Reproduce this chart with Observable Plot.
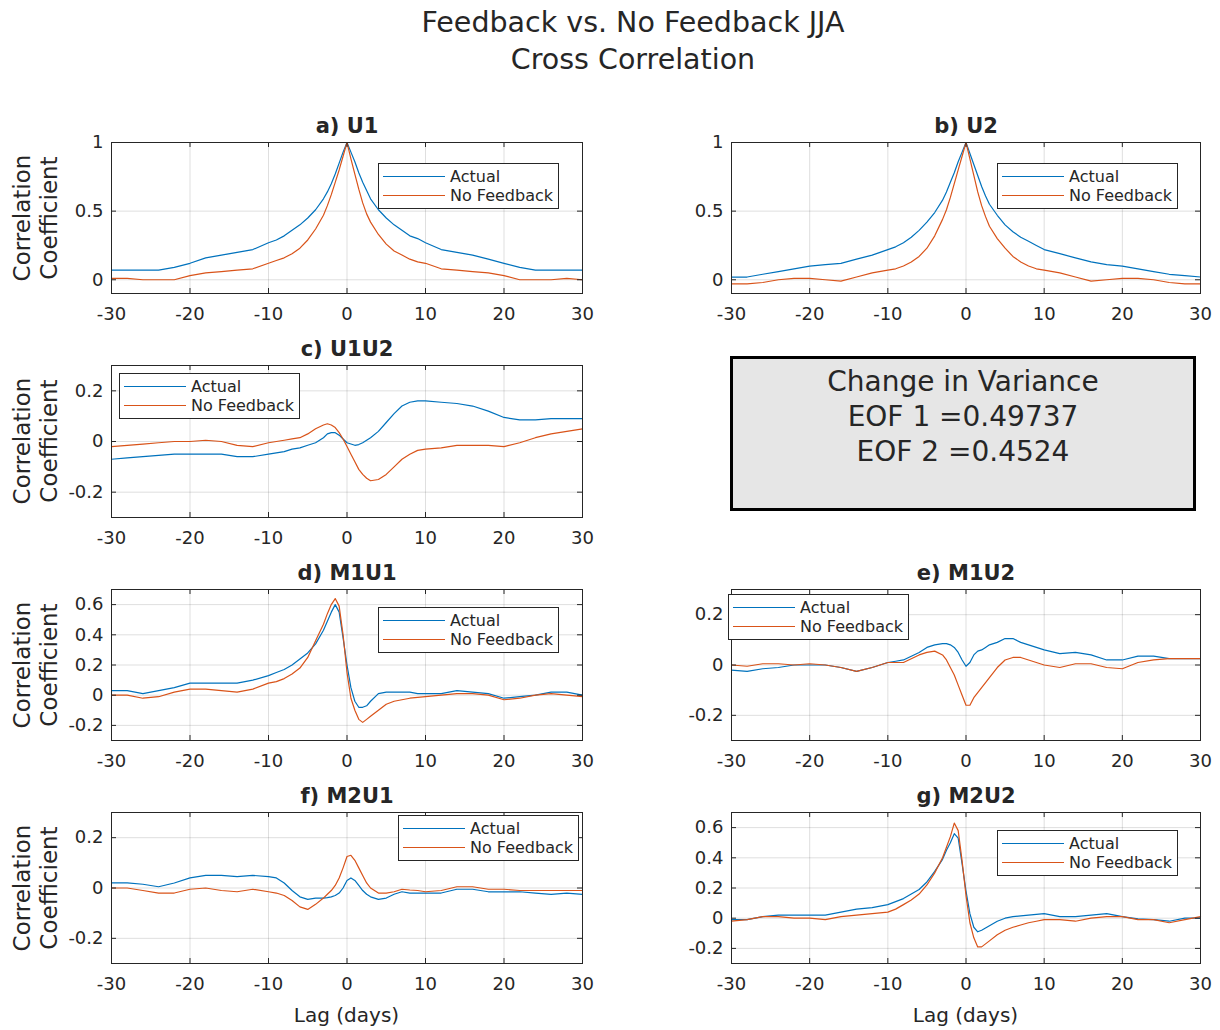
<!DOCTYPE html>
<html><head><meta charset="utf-8">
<script src="https://cdn.jsdelivr.net/npm/d3@7"></script>
<script src="https://cdn.jsdelivr.net/npm/@observablehq/plot@0.6"></script>
<style>
body{margin:0;background:#fff;font-family:"DejaVu Sans",sans-serif;color:#262626;}
#root{position:relative;width:1220px;height:1030px;overflow:hidden;background:#fff;}
.suptitle{position:absolute;left:0;width:1266px;text-align:center;font-size:28.5px;line-height:37px;top:4px;color:#262626;}
.ylab{position:absolute;width:200px;text-align:center;font-size:23px;line-height:27px;transform:rotate(-90deg);transform-origin:center;color:#262626;}
.xlab{position:absolute;width:200px;text-align:center;font-size:20px;color:#262626;}
.legend{position:absolute;border:1px solid #262626;background:#fff;box-sizing:border-box;padding:3px 0 0 4px;font-size:16px;color:#262626;}
.legend .row{display:flex;align-items:center;height:19px;}
.legend .sw{display:inline-block;width:62px;height:1.3px;margin-right:5px;}
.note{position:absolute;border:3px solid #000;background:#e6e6e6;box-sizing:border-box;text-align:center;font-size:28px;line-height:35px;padding-top:5px;color:#262626;}
</style></head>
<body><div id="root"></div>
<script>
// ---- data ----
const lags = [-30,-28,-26,-24,-22,-20,-18,-16,-14,-12,-10,-9,-8,-7,-6,-5,-4,-3,-2.5,-2,-1.5,-1,-0.5,0,0.5,1,1.5,2,2.5,3,4,5,6,7,8,9,10,12,14,16,18,20,22,24,26,28,30];
const seriesNames = ["Actual", "No Feedback"];
const xTicks = [-30,-20,-10,0,10,20,30];

const u1Actual = [.07,.07,.07,.07,.09,.12,.16,.18,.20,.22,.27,.29,.32,.36,.40,.45,.51,.59,.64,.70,.77,.85,.93,1.0,.93,.86,.78,.71,.65,.59,.51,.45,.40,.36,.32,.30,.27,.22,.20,.18,.15,.12,.09,.07,.07,.07,.07];
const u1NoFb   = [.01,.01,0,0,0,.03,.05,.06,.07,.08,.12,.14,.16,.19,.23,.29,.37,.47,.54,.62,.71,.80,.90,1.0,.88,.77,.66,.56,.48,.42,.33,.26,.21,.18,.15,.13,.12,.08,.07,.06,.05,.03,0,0,0,.01,0];

const u2Actual = [.02,.02,.04,.06,.08,.10,.11,.12,.15,.18,.22,.24,.27,.31,.36,.42,.49,.58,.64,.71,.78,.86,.93,1.0,.92,.84,.76,.68,.61,.55,.47,.40,.35,.31,.28,.25,.22,.19,.16,.13,.11,.10,.08,.06,.04,.03,.02];
const u2NoFb   = [-.03,-.03,-.02,0,.01,.01,0,-.01,.02,.05,.07,.08,.10,.13,.17,.23,.32,.44,.51,.60,.70,.80,.90,1.0,.88,.76,.64,.54,.46,.39,.30,.23,.17,.13,.10,.08,.07,.05,.02,-.01,0,.01,.01,0,-.02,-.03,-.03];

const u1u2Actual = [-.07,-.065,-.06,-.055,-.05,-.05,-.05,-.05,-.06,-.06,-.05,-.045,-.04,-.03,-.025,-.015,-.005,.015,.03,.035,.035,.025,.01,-.005,-.01,-.015,-.012,-.005,.005,.015,.04,.075,.11,.14,.155,.16,.16,.155,.15,.14,.12,.095,.085,.085,.09,.09,.09];
const u1u2NoFb   = [-.02,-.015,-.01,-.005,0,0,.005,0,-.015,-.02,-.005,0,.005,.01,.015,.03,.05,.065,.07,.065,.055,.035,.01,-.02,-.05,-.08,-.11,-.13,-.145,-.155,-.15,-.13,-.10,-.07,-.05,-.035,-.03,-.025,-.015,-.015,-.015,-.02,-.005,.015,.03,.04,.05];

const m1u1Actual = [.03,.03,.01,.03,.05,.08,.08,.08,.08,.10,.13,.15,.17,.20,.24,.28,.34,.43,.49,.55,.60,.55,.38,.20,.05,-.04,-.08,-.08,-.07,-.04,.01,.02,.02,.02,.02,.01,.01,.01,.03,.02,.01,-.02,-.01,0,.02,.02,0];
const m1u1NoFb   = [0,0,-.02,-.01,.02,.04,.04,.03,.02,.04,.08,.09,.11,.14,.18,.25,.36,.47,.54,.60,.64,.59,.40,.15,-.02,-.10,-.16,-.18,-.16,-.14,-.10,-.06,-.04,-.03,-.02,-.015,-.01,0,.01,.01,0,-.03,-.02,0,.01,0,-.01];

const m1u2Actual = [-.02,-.025,-.015,-.01,0,0,0,-.01,-.025,-.01,.01,.015,.02,.035,.05,.07,.08,.085,.085,.08,.07,.05,.02,-.005,.01,.04,.055,.06,.07,.08,.09,.105,.105,.09,.08,.07,.06,.045,.05,.04,.02,.02,.035,.035,.025,.025,.025];
const m1u2NoFb   = [0,-.005,.005,.005,0,.005,0,-.01,-.025,-.01,.01,.01,.01,.025,.04,.05,.055,.04,.02,-.01,-.04,-.08,-.12,-.16,-.16,-.13,-.11,-.09,-.07,-.05,-.01,.02,.03,.03,.02,.01,0,-.01,.005,.005,-.01,-.015,.01,.02,.025,.025,.025];

const m2u1Actual = [.02,.02,.015,.005,.02,.04,.05,.05,.045,.05,.045,.04,.02,-.01,-.035,-.045,-.04,-.04,-.038,-.035,-.03,-.02,0,.03,.04,.03,.01,-.01,-.025,-.035,-.045,-.04,-.025,-.015,-.02,-.02,-.02,-.02,-.005,-.005,-.015,-.015,-.015,-.02,-.025,-.02,-.025];
const m2u1NoFb   = [0,0,-.01,-.02,-.02,-.005,0,-.01,-.015,-.005,-.015,-.02,-.03,-.05,-.075,-.085,-.065,-.04,-.025,-.01,.01,.04,.08,.125,.13,.11,.08,.05,.02,0,-.02,-.02,-.015,-.005,-.008,-.01,-.015,-.01,.005,.005,-.005,-.005,-.01,-.01,-.01,-.01,-.01];

const m2u2Actual = [-.01,-.01,.01,.02,.02,.02,.02,.04,.06,.07,.09,.11,.13,.16,.19,.24,.31,.39,.45,.50,.56,.53,.36,.18,.03,-.06,-.09,-.08,-.065,-.05,-.02,0,.01,.015,.02,.025,.03,.01,.01,.02,.03,.01,-.005,-.01,-.02,0,0];
const m2u2NoFb   = [-.02,-.01,.01,.01,0,0,-.01,.01,.02,.03,.04,.06,.09,.12,.16,.22,.30,.40,.47,.54,.63,.58,.38,.15,-.03,-.13,-.19,-.19,-.17,-.15,-.11,-.08,-.06,-.045,-.03,-.02,-.01,-.01,-.02,0,.01,.01,-.01,-.01,-.03,-.01,.01];

const varianceText = ["Change in Variance", "EOF 1 =0.49737", "EOF 2 =0.4524"];

// ---- layout ----
const INK = "#262626", BLUE = "#0072BD", ORANGE = "#D95319", FONT = "DejaVu Sans";
const panels = [
  {title:"a) U1",   actual:u1Actual,   nofb:u1NoFb,   left:111, top:142, w:471, h:151, yDomain:[-0.1,1],   yTicks:[0,0.5,1],            ylab:true,  xlab:false, legend:[378,163]},
  {title:"b) U2",   actual:u2Actual,   nofb:u2NoFb,   left:731, top:142, w:469, h:151, yDomain:[-0.1,1],   yTicks:[0,0.5,1],            ylab:false, xlab:false, legend:[997,163]},
  {title:"c) U1U2", actual:u1u2Actual, nofb:u1u2NoFb, left:111, top:365, w:471, h:152, yDomain:[-0.3,0.3], yTicks:[-0.2,0,0.2],         ylab:true,  xlab:false, legend:[119,373]},
  {title:"d) M1U1", actual:m1u1Actual, nofb:m1u1NoFb, left:111, top:589, w:471, h:151, yDomain:[-0.3,0.7], yTicks:[-0.2,0,0.2,0.4,0.6], ylab:true,  xlab:false, legend:[378,607]},
  {title:"e) M1U2", actual:m1u2Actual, nofb:m1u2NoFb, left:731, top:589, w:469, h:151, yDomain:[-0.3,0.3], yTicks:[-0.2,0,0.2],         ylab:false, xlab:false, legend:[728,594]},
  {title:"f) M2U1", actual:m2u1Actual, nofb:m2u1NoFb, left:111, top:812, w:471, h:151, yDomain:[-0.3,0.3], yTicks:[-0.2,0,0.2],         ylab:true,  xlab:true,  legend:[398,815]},
  {title:"g) M2U2", actual:m2u2Actual, nofb:m2u2NoFb, left:731, top:812, w:469, h:151, yDomain:[-0.3,0.7], yTicks:[-0.2,0,0.2,0.4,0.6], ylab:false, xlab:true,  legend:[997,830]}
];

const root = document.getElementById("root");
const title = document.createElement("div");
title.className = "suptitle";
title.innerHTML = "Feedback vs. No Feedback JJA<br>Cross Correlation";
root.appendChild(title);

const fmt = d => String(d);
for (const p of panels) {
  const mL = 70, mR = 30, mT = 40, mB = 40;
  const data = lags.map((lag, i) => ({lag, actual: p.actual[i], nofb: p.nofb[i]}));
  const chart = Plot.plot({
    width: p.w + mL + mR, height: p.h + mT + mB,
    marginLeft: mL, marginRight: mR, marginTop: mT, marginBottom: mB,
    style: {fontFamily: FONT, fontSize: "18px", color: INK, background: "transparent", overflow: "visible"},
    x: {domain: [-30, 30]},
    y: {domain: p.yDomain},
    marks: [
      Plot.gridX({ticks: xTicks, stroke: INK, strokeOpacity: 0.15}),
      Plot.gridY({ticks: p.yTicks, stroke: INK, strokeOpacity: 0.15}),
      Plot.line(data, {x: "lag", y: "actual", stroke: BLUE, strokeWidth: 1.2}),
      Plot.line(data, {x: "lag", y: "nofb", stroke: ORANGE, strokeWidth: 1.2}),
      Plot.tickX(xTicks, {x: d => d, insetTop: p.h - 5, stroke: INK}),
      Plot.tickX(xTicks, {x: d => d, insetBottom: p.h - 5, stroke: INK}),
      Plot.tickY(p.yTicks, {y: d => d, insetRight: p.w - 5, stroke: INK}),
      Plot.tickY(p.yTicks, {y: d => d, insetLeft: p.w - 5, stroke: INK}),
      Plot.axisX({ticks: xTicks, tickSize: 0, tickPadding: 14, tickFormat: fmt, label: null}),
      Plot.axisY({ticks: p.yTicks, tickSize: 0, tickPadding: 8, tickFormat: fmt, label: null}),
      Plot.frame({stroke: INK, strokeWidth: 1}),
      Plot.text([p.title], {text: d => d, frameAnchor: "top", lineAnchor: "middle", dy: -16, fontWeight: "bold", fontSize: 21, fill: INK})
    ]
  });
  chart.style.position = "absolute";
  chart.style.left = (p.left - mL) + "px";
  chart.style.top = (p.top - mT) + "px";
  root.appendChild(chart);

  if (p.ylab) {
    const yl = document.createElement("div");
    yl.className = "ylab";
    yl.innerHTML = "Correlation<br>Coefficient";
    yl.style.left = (36 - 100) + "px";
    yl.style.top = (p.top + p.h / 2 - 27) + "px";
    root.appendChild(yl);
  }
  if (p.xlab) {
    const xl = document.createElement("div");
    xl.className = "xlab";
    xl.textContent = "Lag (days)";
    xl.style.left = (p.left + p.w / 2 - 100) + "px";
    xl.style.top = (p.top + p.h + 40) + "px";
    root.appendChild(xl);
  }
  const lg = document.createElement("div");
  lg.className = "legend";
  lg.style.left = p.legend[0] + "px";
  lg.style.top = p.legend[1] + "px";
  lg.style.width = "181px";
  lg.style.height = "46px";
  [BLUE, ORANGE].forEach((c, i) => {
    const row = document.createElement("div");
    row.className = "row";
    const sw = document.createElement("span");
    sw.className = "sw";
    sw.style.background = c;
    const tx = document.createElement("span");
    tx.textContent = seriesNames[i];
    row.appendChild(sw); row.appendChild(tx);
    lg.appendChild(row);
  });
  root.appendChild(lg);
}

const note = document.createElement("div");
note.className = "note";
note.style.left = "730px"; note.style.top = "356px";
note.style.width = "466px"; note.style.height = "155px";
note.innerHTML = varianceText.join("<br>");
root.appendChild(note);
</script>
</body></html>
